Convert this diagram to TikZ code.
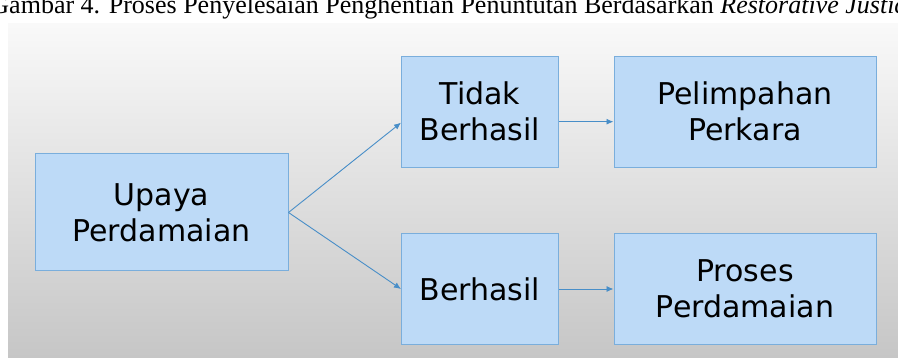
\documentclass[tikz,border=0pt]{standalone}
\usepackage{fontspec}
\setmainfont{Liberation Serif}
\newfontfamily\boxfont{DejaVu Sans}
\usetikzlibrary{arrows.meta,positioning}
\definecolor{boxfill}{RGB}{189,218,247}
\definecolor{boxline}{RGB}{122,174,220}
\definecolor{conline}{RGB}{72,142,200}
\definecolor{bgtop}{RGB}{249,249,249}
\definecolor{bgbot}{RGB}{198,198,198}
\tikzstyle{box}=[rectangle, draw=boxline, fill=boxfill, line width=1pt, align=center, inner sep=0pt, font=\boxfont\fontsize{30}{36}\selectfont]
\tikzstyle{con}=[-{Latex[length=7pt,width=6pt]}, draw=conline, line width=0.9pt]

\begin{document}
\begin{tikzpicture}[x=1pt,y=-1pt]
				\useasboundingbox (0,0) rectangle (898,358);
				\shade[top color=bgtop, bottom color=bgbot] (8,24) rectangle (898,358);
				\node[anchor=base] (cap) at (454,14) {\fontsize{26}{30}\selectfont Gambar 4. Proses Penyelesaian Penghentian Penuntutan Berdasarkan \textit{Restorative Justice}};
				
				\node[box, minimum width=253pt, minimum height=117pt] (U) at (161.5,212.5) {Upaya\\Perdamaian};
				\node[box, minimum width=157pt, minimum height=111pt] (T) at (480,111.7) {Tidak\\Berhasil};
				\node[box, minimum width=157pt, minimum height=111pt] (B) at (480,289) {Berhasil};
				\node[box, minimum width=262pt, minimum height=111pt] (P) at (745,111.7) {Pelimpahan\\Perkara};
				\node[box, minimum width=262pt, minimum height=111pt] (R) at (745,289) {Proses\\Perdamaian};
				
				\draw[con](U.east)--([yshift=-11pt]T.west);
				\draw[con](U.east)--(B.west);
				\draw[con]([yshift=-10pt]T.east)--([yshift=-10pt]P.west);
				\draw[con](B.east)--(R.west);
\end{tikzpicture}
\end{document}
